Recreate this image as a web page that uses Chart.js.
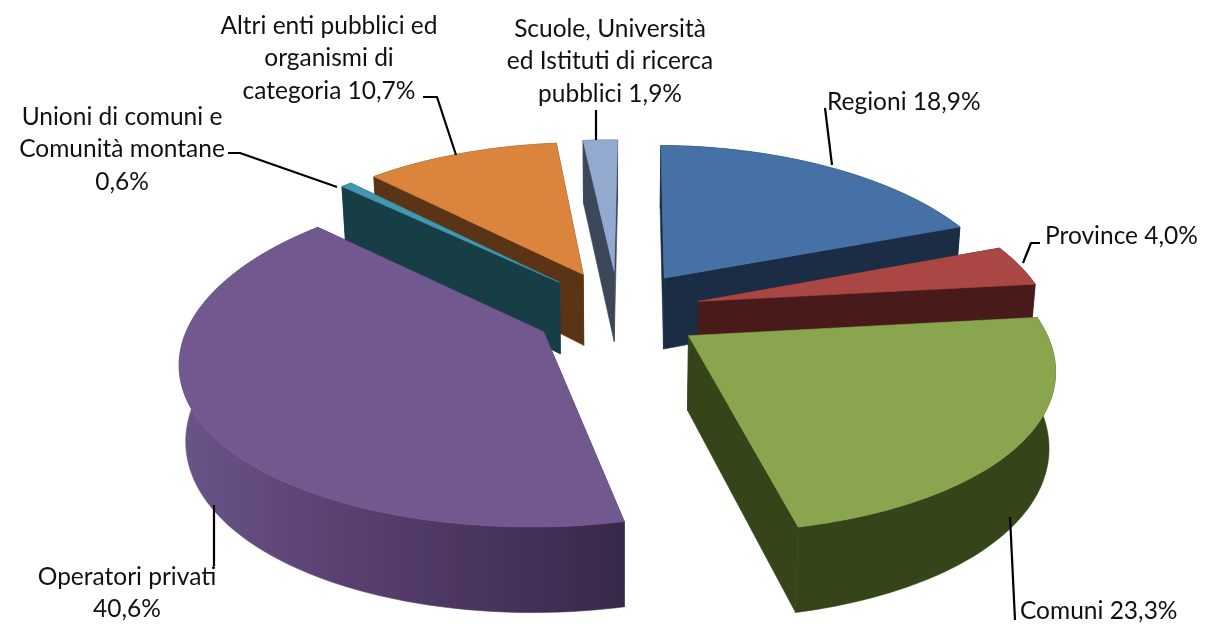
<!DOCTYPE html>
<html><head><meta charset="utf-8">
<style>html,body{margin:0;padding:0;background:#fff}canvas{display:block}</style>
<script src="https://cdn.jsdelivr.net/npm/chart.js@4"></script>
</head><body><canvas id="c" width="1205" height="624"></canvas>
<script>
const categories=["Regioni","Province","Comuni","Operatori privati","Unioni di comuni e Comunità montane","Altri enti pubblici ed organismi di categoria","Scuole, Università ed Istituti di ricerca pubblici"];
const shares=[18.9,4.0,23.3,40.6,0.6,10.7,1.9];
const topColors=["#4571a7","#aa4644","#89a64e","#71588f","#4198af","#db843d","#93a9cf"];
const sideColors=["#1b2d45","#481b1a","#364519","#3a2a4c","#173d47","#5a3415","#3c4759"];
const labelLines=[["Regioni"],["Province"],["Comuni"],["Operatori privati"],["Unioni di comuni e","Comunità montane"],["Altri enti pubblici ed","organismi di","categoria"],["Scuole, Università","ed Istituti di ricerca","pubblici"]];
const pct=v=>v.toFixed(1).replace('.',',')+'%';
const labelPos=[[827,102,'left',0],[1045,236,'left',0],[1020,611,'left',0],[127,577,'center',1],[122,117,'center',1],[329,26,'center',0],[610,29,'center',0]];
const leaders=[[[825,108],[832,165]],[[1040,243],[1031,243],[1023,263]],[[1010,517],[1015,620]],[[214,505],[214,566]],[[228,153],[240,153],[337,187]],[[423,97],[437,97],[456,155]],[[596,110],[596,140]]];
const view={cx:618,cy:311,rx:350,ry:160.5,px:.165,py:.144,pd:.13,shear:3,explode:.24,explodeY:1.08,depth:73,taper:.015,rotation:1.2};
const drawOrder=[0,1,2,6,5,4,3];
function project(u,v,z){
  const sx=1/(1-view.px*v), sy=1/(1-view.py*v), sd=1/(1-view.pd*v);
  return [view.cx+view.shear*v+view.rx*u*sx*(1-view.taper*z), view.cy+view.ry*v*sy+view.depth*z*sd];
}
function poly(ctx,pts,fill){ctx.beginPath();pts.forEach((p,i)=>i?ctx.lineTo(p[0],p[1]):ctx.moveTo(p[0],p[1]));ctx.closePath();ctx.fillStyle=fill;ctx.fill();ctx.strokeStyle=fill;ctx.lineWidth=.6;ctx.stroke();}
const pie3d={id:'pie3d',
 beforeDatasetsDraw(chart){
  const ctx=chart.ctx, arcs=chart.getDatasetMeta(0).data;
  drawOrder.forEach(i=>{
    const a=arcs[i], s=a.startAngle, e=a.endAngle, m=(s+e)/2;
    const ox=view.explode*Math.cos(m), oy=view.explode*view.explodeY*Math.sin(m);
    const ring=z=>{const r=[];const n=Math.max(4,Math.ceil((e-s)*40));for(let k=0;k<=n;k++){const t=s+(e-s)*k/n;r.push(project(ox+Math.cos(t),oy+Math.sin(t),z));}return r;};
    const top=ring(0), bot=ring(1), A0=project(ox,oy,0), A1=project(ox,oy,1);
    const side=sideColors[i];
    poly(ctx,[A0,top[0],bot[0],A1],side);
    poly(ctx,[A0,top[top.length-1],bot[bot.length-1],A1],side);
    let wall=side;
    if(i===3){wall=ctx.createLinearGradient(180,0,625,0);wall.addColorStop(0,'#6a5488');wall.addColorStop(.35,'#5a4172');wall.addColorStop(1,'#38284a');}
    poly(ctx,top.concat(bot.slice().reverse()),wall);
    poly(ctx,[A0].concat(top),topColors[i]);
  });
  ctx.save();ctx.strokeStyle='#000';ctx.lineWidth=2.2;ctx.lineJoin='round';
  leaders.forEach(l=>{ctx.beginPath();l.forEach((p,i)=>i?ctx.lineTo(p[0],p[1]):ctx.moveTo(p[0],p[1]));ctx.stroke();});
  ctx.fillStyle='#111';ctx.font='24.5px Lato';ctx.textBaseline='middle';
  labelLines.forEach((ls,i)=>{
    const [x,y,al,own]=labelPos[i];ctx.textAlign=al;
    const lines=ls.slice();
    if(own)lines.push(pct(shares[i]));else lines[lines.length-1]+=' '+pct(shares[i]);
    lines.forEach((t,k)=>ctx.fillText(t,x,y+k*32.5));
  });
  ctx.restore();
  return false;
 }};
new Chart(document.getElementById('c'),{type:'pie',
 data:{labels:categories,datasets:[{data:shares,backgroundColor:topColors,borderWidth:0}]},
 options:{responsive:false,animation:false,events:[],rotation:view.rotation,layout:{padding:0},plugins:{legend:{display:false},tooltip:{enabled:false}}},
 plugins:[pie3d]});
</script></body></html>
